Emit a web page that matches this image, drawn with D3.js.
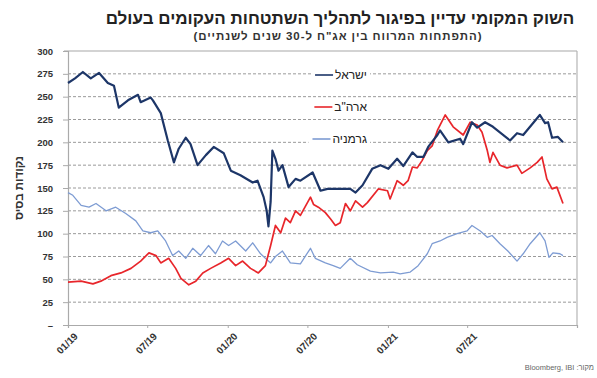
<!DOCTYPE html>
<html lang="he">
<head>
<meta charset="utf-8">
<script src="https://cdn.jsdelivr.net/npm/d3@7"></script>
<style>
  html, body { margin: 0; padding: 0; background: #fff; }
  svg { display: block; font-family: "Liberation Sans", Arial, sans-serif; }
</style>
</head>
<body>
<svg id="chart" width="597" height="378"></svg>
<script>
// Spread between 30-year and 2-year government bonds, basis points
const israelDates = ["2019-01-01","2019-01-17","2019-02-04","2019-02-22","2019-03-13","2019-04-02","2019-04-16","2019-04-27","2019-05-18","2019-06-10","2019-06-16","2019-07-09","2019-07-14","2019-08-01","2019-08-17","2019-08-31","2019-09-11","2019-09-27","2019-10-08","2019-10-24","2019-11-12","2019-11-30","2019-12-23","2020-01-08","2020-01-30","2020-02-27","2020-03-09","2020-03-23","2020-03-30","2020-04-03","2020-04-08","2020-04-12","2020-04-19","2020-04-26","2020-05-05","2020-05-19","2020-06-04","2020-06-15","2020-07-13","2020-07-31","2020-08-16","2020-10-07","2020-10-19","2020-11-04","2020-11-26","2020-12-15","2021-01-02","2021-01-22","2021-02-05","2021-02-26","2021-03-09","2021-03-23","2021-04-03","2021-04-24","2021-04-30","2021-05-19","2021-06-15","2021-06-22","2021-07-12","2021-07-24","2021-08-11","2021-08-29","2021-10-07","2021-10-23","2021-11-06","2021-12-14","2021-12-26","2022-01-02","2022-01-11","2022-01-24","2022-02-05"];
const israelValues = [265,270,277,270,276,265,262,238,246,252,244,249,246,232,202,178,193,205,198,175,186,195,188,169,164,156,158,140,125,108,135,191,182,169,175,151,160,158,167,147,149,149,145,153,171,175,171,182,174,189,184,184,195,208,213,200,204,198,222,216,222,217,202,210,208,230,221,222,205,206,200];

const usDates = ["2019-01-01","2019-01-31","2019-02-27","2019-03-17","2019-04-09","2019-05-02","2019-05-25","2019-06-16","2019-07-05","2019-07-21","2019-08-01","2019-08-19","2019-09-04","2019-09-16","2019-10-04","2019-10-20","2019-11-05","2019-11-23","2019-12-16","2020-01-03","2020-01-19","2020-02-04","2020-02-22","2020-03-11","2020-03-27","2020-04-08","2020-04-19","2020-05-01","2020-05-12","2020-05-23","2020-06-04","2020-06-15","2020-07-08","2020-07-15","2020-07-26","2020-08-11","2020-08-23","2020-09-03","2020-09-14","2020-09-26","2020-10-07","2020-10-19","2020-11-04","2020-11-15","2020-12-10","2020-12-31","2021-01-06","2021-01-22","2021-02-05","2021-02-16","2021-02-26","2021-03-09","2021-03-20","2021-04-01","2021-04-12","2021-04-24","2021-05-12","2021-05-30","2021-06-22","2021-07-08","2021-07-24","2021-08-04","2021-08-16","2021-08-22","2021-08-29","2021-09-14","2021-09-30","2021-10-23","2021-11-03","2021-11-22","2021-12-08","2021-12-19","2021-12-30","2022-01-11","2022-01-22","2022-02-05"];
const usValues = [47,48,45,48,54,57,62,70,79,76,68,73,62,51,44,48,57,62,68,73,65,70,62,57,65,87,109,101,117,112,125,120,140,132,129,123,116,109,112,133,125,136,129,134,149,147,138,158,153,158,173,172,180,191,196,213,230,217,208,222,219,211,191,178,189,175,172,175,166,172,178,184,160,149,151,133];

const germanyDates = ["2019-01-01","2019-01-12","2019-01-31","2019-02-18","2019-03-06","2019-03-29","2019-04-20","2019-05-13","2019-06-05","2019-06-21","2019-07-09","2019-07-25","2019-08-12","2019-08-28","2019-09-11","2019-09-27","2019-10-13","2019-10-31","2019-11-18","2019-12-04","2019-12-20","2020-01-03","2020-01-19","2020-02-11","2020-02-27","2020-03-16","2020-03-27","2020-04-08","2020-04-19","2020-05-05","2020-05-23","2020-06-15","2020-07-08","2020-07-19","2020-08-11","2020-08-29","2020-09-14","2020-10-07","2020-10-23","2020-11-22","2020-12-15","2021-01-13","2021-01-29","2021-02-21","2021-03-11","2021-04-01","2021-04-12","2021-04-30","2021-05-16","2021-06-08","2021-07-01","2021-07-12","2021-07-31","2021-08-16","2021-08-27","2021-09-14","2021-10-02","2021-10-23","2021-11-06","2021-11-22","2021-12-14","2021-12-26","2022-01-04","2022-01-13","2022-01-29","2022-02-05"];
const germanyValues = [145,142,131,129,133,125,129,122,114,103,101,103,92,76,81,73,84,76,87,78,92,87,92,81,90,78,73,68,75,81,68,67,84,73,68,65,62,73,66,59,57,58,56,58,65,78,89,92,96,100,103,109,103,96,98,89,81,70,78,89,101,92,74,79,78,76];

const seriesNames = ["ישראל", "ארה\"ב", "גרמניה"];
const seriesColors = ["#1d3668", "#e8262b", "#7e9cd3"];

const yTicks = [0, 25, 50, 75, 100, 125, 150, 175, 200, 225, 250, 275, 300];
const xTickDates = ["2019-01-01","2019-07-01","2020-01-01","2020-07-01","2021-01-01","2021-07-01"];
const xTickLabels = ["01/19","07/19","01/20","07/20","01/21","07/21"];

const titleText = "השוק המקומי עדיין בפיגור לתהליך השתטחות העקומים בעולם";
const subtitleText = "(התפתחות המרווח בין אג\"ח ל-30 שנים לשנתיים)";
const yTitle = "נקודות בסיס";
const sourceText = "מקור: Bloomberg, IBI";

const parse = d3.timeParse("%Y-%m-%d");
const series = [
  { dates: israelDates, values: israelValues, width: 2.2 },
  { dates: usDates, values: usValues, width: 1.7 },
  { dates: germanyDates, values: germanyValues, width: 1.3 }
].map((s, i) => ({
  name: seriesNames[i],
  color: seriesColors[i],
  width: s.width,
  points: s.dates.map((d, j) => ({ date: parse(d), value: s.values[j] }))
}));

const svg = d3.select("#chart");
const margin = { left: 68, right: 20, top: 51, bottom: 53 };
const W = 597, H = 378;

const x = d3.scaleTime()
  .domain([parse("2019-01-01"), parse("2022-03-09")])
  .range([margin.left, W - margin.right]);
const y = d3.scaleLinear()
  .domain([0, 300])
  .range([H - margin.bottom, margin.top]);

// Titles
svg.append("text")
  .attr("x", 340).attr("y", 24)
  .attr("text-anchor", "middle")
  .attr("direction", "rtl")
  .attr("font-size", 17).attr("font-weight", "bold").attr("fill", "#222")
  .text(titleText);
svg.append("text")
  .attr("x", 338).attr("y", 39.5)
  .attr("text-anchor", "middle")
  .attr("direction", "rtl")
  .attr("font-size", 11.5).attr("font-weight", "bold").attr("fill", "#333")
  .attr("letter-spacing", 0.9)
  .text(subtitleText);

// Dashed gridlines
svg.append("g")
  .selectAll("line")
  .data(yTicks.filter(t => t > 0 && t < 300))
  .join("line")
  .attr("x1", margin.left).attr("x2", W - margin.right)
  .attr("y1", d => y(d)).attr("y2", d => y(d))
  .attr("stroke", "#9a9a9a").attr("stroke-width", 1)
  .attr("stroke-dasharray", "3,2");

// Frame: top and right borders
svg.append("line")
  .attr("x1", margin.left - 4).attr("x2", W - margin.right)
  .attr("y1", y(300)).attr("y2", y(300))
  .attr("stroke", "#a8a8a8").attr("stroke-width", 1.2);
svg.append("line")
  .attr("x1", W - margin.right).attr("x2", W - margin.right)
  .attr("y1", y(300)).attr("y2", y(0))
  .attr("stroke", "#b5b5b5").attr("stroke-width", 1.2);

// Y axis
const yAxis = d3.axisLeft(y)
  .tickValues(yTicks)
  .tickSize(5)
  .tickPadding(10)
  .tickFormat(d => d === 0 ? "–" : d);
const gy = svg.append("g")
  .attr("transform", `translate(${margin.left},0)`)
  .call(yAxis);
gy.select(".domain").attr("stroke", "#aaa").attr("stroke-width", 1.2);
gy.selectAll(".tick line").attr("stroke", "#aaa");
gy.selectAll(".tick text")
  .attr("font-size", 9.5).attr("font-weight", "bold").attr("fill", "#333")
  .attr("font-family", "Liberation Sans, Arial, sans-serif");

// X axis
const xAxis = d3.axisBottom(x)
  .tickValues(xTickDates.map(parse))
  .tickSize(3)
  .tickFormat((d, i) => xTickLabels[i]);
const gx = svg.append("g")
  .attr("transform", `translate(0,${y(0)})`)
  .call(xAxis);
gx.select(".domain").attr("stroke", "#aaa").attr("stroke-width", 1.2);
gx.selectAll(".tick line").attr("stroke", "#aaa");
gx.selectAll(".tick text")
  .attr("font-size", 10).attr("font-weight", "bold").attr("fill", "#333")
  .attr("font-family", "Liberation Sans, Arial, sans-serif")
  .attr("text-anchor", "end")
  .attr("dy", null)
  .attr("y", 0)
  .attr("transform", "translate(10,12) rotate(-45)");

// Y axis title
svg.append("text")
  .attr("transform", `translate(23,${(y(0) + y(300)) / 2})`  + " rotate(-90)")
  .attr("text-anchor", "middle")
  .attr("direction", "rtl")
  .attr("font-size", 11.5).attr("font-weight", "bold").attr("fill", "#333")
  .text(yTitle);

// Series lines (Germany drawn first, Israel on top)
const line = d3.line()
  .x(d => x(d.date))
  .y(d => y(d.value));
svg.append("g")
  .selectAll("path")
  .data(series.slice().reverse())
  .join("path")
  .attr("d", d => line(d.points))
  .attr("fill", "none")
  .attr("stroke", d => d.color)
  .attr("stroke-width", d => d.width)
  .attr("stroke-linejoin", "round");

// Legend
const legendY = [75, 107, 139];
const legend = svg.append("g");
series.forEach((s, i) => {
  const g = legend.append("g").attr("transform", `translate(367,${legendY[i]})`);
  const bg = g.append("rect").attr("fill", "#fff");
  const t = g.append("text")
    .attr("x", 0).attr("y", 4)
    .attr("text-anchor", "start")
    .attr("direction", "rtl")
    .attr("font-size", 12).attr("fill", "#222")
    .text(s.name);
  const tw = t.node().getComputedTextLength();
  bg.attr("x", -tw - 24).attr("y", -7).attr("width", tw + 27).attr("height", 14);
  g.append("line")
    .attr("x1", -tw - 20).attr("x2", -tw - 2)
    .attr("y1", 0).attr("y2", 0)
    .attr("stroke", s.color).attr("stroke-width", 1.6);
});

// Source note
svg.append("text")
  .attr("x", 594).attr("y", 370)
  .attr("text-anchor", "start")
  .attr("direction", "rtl")
  .attr("font-size", 7.5).attr("fill", "#666")
  .text(sourceText);
</script>
</body>
</html>
